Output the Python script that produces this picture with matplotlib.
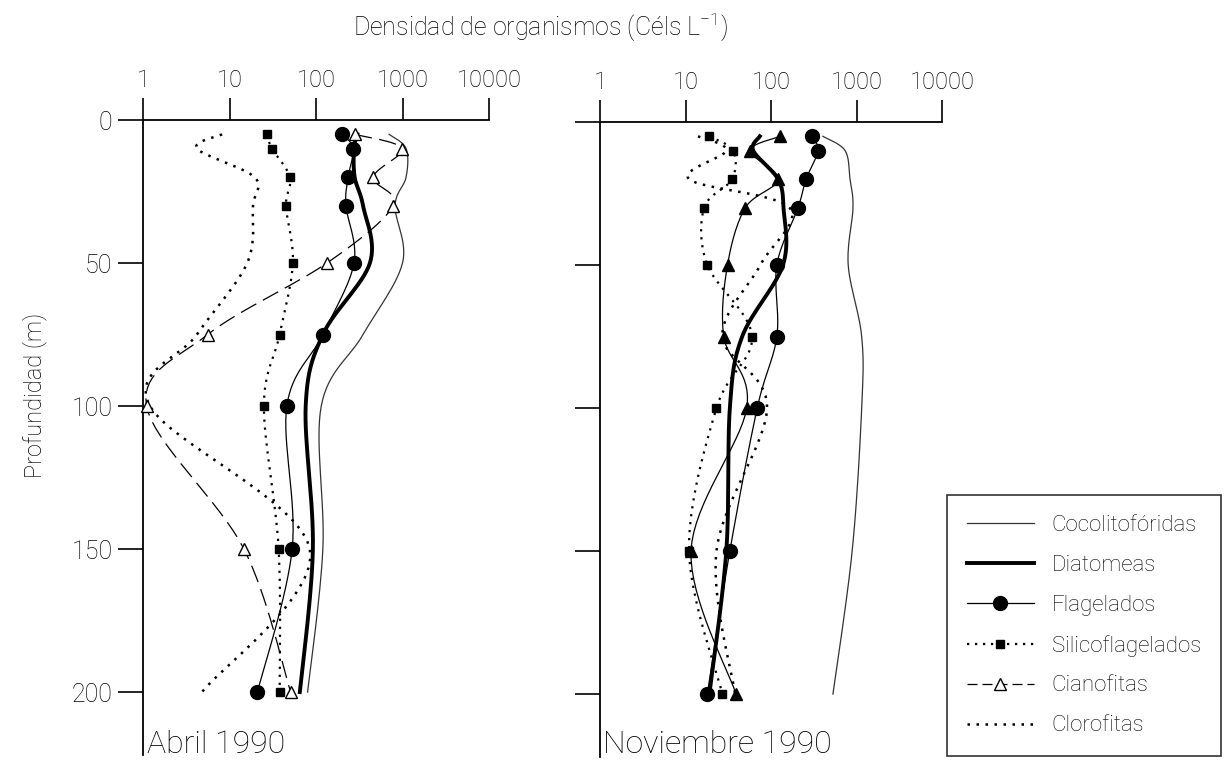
import numpy as np
import matplotlib.pyplot as plt
from matplotlib.lines import Line2D
from matplotlib.ticker import NullLocator

plt.rcParams['font.family'] = ['Roboto', 'DejaVu Sans']
plt.rcParams['font.weight'] = 'light'
plt.rcParams['mathtext.fontset'] = 'custom'
plt.rcParams['mathtext.rm'] = 'Roboto:light'

# profundidades de muestreo (m)
profundidad = [5, 10, 20, 30, 50, 75, 100, 150, 200]

# Abril 1990 (Cels/L)
coco_abr = [700, 1100, 1100, 820, 1000, 350, 115, 120, 80]
diat_abr = [300, 275, 280, 350, 420, 120, 76, 92, 65]
flag_abr = [200, 270, 235, 222, 275, 120, 46, 53, 21]
sili_abr = [27, 31, 50, 45, 54, 38, 25, 37, 38]
cian_abr = [280, 990, 460, 780, 134, 5.6, 1.1, 14.7, 51]
clor_abr = [8.2, 4.2, 19.5, 18.7, 16, 4.2, 1.2, 85, 4.8]

# Noviembre 1990
coco_nov = [405, 735, 840, 910, 800, 1150, 1150, 890, 530]
diat_nov = [74, 62, 121, 140, 138, 46, 33, 30, 19]
flag_nov = [300, 355, 257, 207, 117, 117, 69, 33, 18]
sili_nov = [19, 36, 35, 16.5, 18, 60, 23, 11, 27]
cian_nov = [127, 57, 121, 50, 31, 28, 52, 11.6, 39]
clor_nov = [14, 30, 11, 165, 75, 27, 90, 23, 38]

ticks_x = [1, 10, 100, 1000, 10000]
ticks_y = [0, 50, 100, 150, 200]


# curva suave (Catmull-Rom en escala log) para dibujar las lineas
def suave(prof, vals, n=16):
    d = np.array(prof, float)
    v = np.log10(np.array(vals, float))
    xs, ys = [], []
    k = len(d)
    for i in range(k - 1):
        i0 = max(i - 1, 0)
        i3 = min(i + 2, k - 1)
        t = np.linspace(0, 1, n, endpoint=False)
        for arr, out in ((v, xs), (d, ys)):
            p0, p1, p2, p3 = arr[i0], arr[i], arr[i + 1], arr[i3]
            c = 0.5 * ((2 * p1) + (-p0 + p2) * t + (2 * p0 - 5 * p1 + 4 * p2 - p3) * t ** 2
                       + (-p0 + 3 * p1 - 3 * p2 + p3) * t ** 3)
            out.extend(c)
    xs.append(v[-1])
    ys.append(d[-1])
    return 10 ** np.array(xs), np.array(ys)


def linea(ax, vals, marker=None, ms=8, mfc='black', **kw):
    x, y = suave(profundidad, vals)
    ax.plot(x, y, clip_on=False, **kw)
    if marker:
        ax.plot(vals, profundidad, linestyle='none', marker=marker, ms=ms,
                mfc=mfc, mec='black', mew=1.0, clip_on=False, zorder=5)


fig = plt.figure(figsize=(12.29, 7.61), dpi=100)
axL = fig.add_axes([143 / 1229, 1 - 755 / 761, 346 / 1229, (755 - 120) / 761])
axR = fig.add_axes([600 / 1229, 1 - 757 / 761, 342 / 1229, (757 - 122) / 761])

dots = (0, (1, 2.6))
for ax, datos, lado in ((axL, (coco_abr, diat_abr, flag_abr, sili_abr, cian_abr, clor_abr), 'L'),
                        (axR, (coco_nov, diat_nov, flag_nov, sili_nov, cian_nov, clor_nov), 'R')):
    coco, diat, flag, sili, cian, clor = datos
    linea(ax, coco, color='#333333', lw=0.9)
    linea(ax, diat, color='black', lw=2.8)
    linea(ax, flag, marker='o', ms=10, color='black', lw=0.9)
    linea(ax, sili, marker='s', ms=6, color='black', lw=1.6, linestyle=dots)
    if lado == 'L':
        linea(ax, cian, marker='^', ms=9, mfc='white', color='black', lw=0.9,
              linestyle=(0, (14, 6)))
    else:
        linea(ax, cian, marker='^', ms=9, color='black', lw=0.9)
    linea(ax, clor, color='black', lw=1.8, linestyle=dots)

    ax.set_xscale('log')
    ax.set_xlim(1, 10000)
    ax.set_ylim(222, 0)
    ax.xaxis.tick_top()
    ax.xaxis.set_minor_locator(NullLocator())
    ax.set_xticks(ticks_x)
    ax.set_xticklabels([str(t) for t in ticks_x])
    ax.set_yticks(ticks_y)
    ax.spines['bottom'].set_visible(False)
    ax.spines['right'].set_visible(False)
    ax.spines['top'].set_linewidth(1.3)
    ax.spines['left'].set_linewidth(1.3)
    ax.tick_params(axis='x', direction='out', length=16, width=1.2, labelsize=17, pad=4)
    ax.tick_params(axis='y', direction='out', length=18, width=1.2, labelsize=18, pad=4)
    ax.patch.set_alpha(0)

axR.set_yticklabels([])
axL.set_yticklabels([str(t) for t in ticks_y])

fig.text(147 / 1229, 1 - 759 / 761, 'Abril 1990', fontsize=23, va='bottom', ha='left')
fig.text(603 / 1229, 1 - 759 / 761, 'Noviembre 1990', fontsize=23, va='bottom', ha='left')
fig.text(35 / 1229, 1 - 395 / 761, 'Profundidad (m)', fontsize=17, rotation=90,
         va='center', ha='center')
fig.text(540 / 1229, 1 - 27 / 761, 'Densidad de organismos (Céls L$^{-1}$)', fontsize=18,
         va='center', ha='center')

handles = [
    Line2D([], [], color='#333333', lw=0.9),
    Line2D([], [], color='black', lw=2.8),
    Line2D([], [], color='black', lw=0.9, marker='o', ms=10),
    Line2D([], [], color='black', lw=1.6, linestyle=dots, marker='s', ms=6),
    Line2D([], [], color='black', lw=0.9, linestyle=(0, (8, 4)), marker='^', ms=9, mfc='white'),
    Line2D([], [], color='black', lw=1.8, linestyle=dots),
]
labels = ['Cocolitofóridas', 'Diatomeas', 'Flagelados', 'Silicoflagelados', 'Cianofitas', 'Clorofitas']
leg = fig.legend(handles, labels, loc='upper left', bbox_to_anchor=(936 / 1229, 1 - 484 / 761),
                 frameon=True, fancybox=False, edgecolor='black', fontsize=16,
                 handlelength=3.0, labelspacing=0.85, borderpad=0.9, handletextpad=0.8)
leg.get_frame().set_linewidth(1.2)

fig.savefig('out.png', dpi=100)
